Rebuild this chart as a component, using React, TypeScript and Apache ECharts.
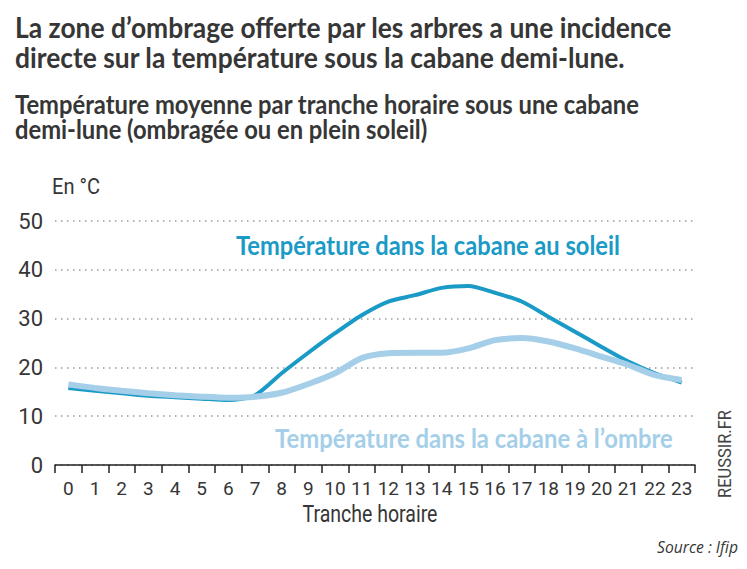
import React, { useEffect, useRef } from "react";
import * as echarts from "echarts";

const hours = ["0","1","2","3","4","5","6","7","8","9","10","11","12","13","14","15","16","17","18","19","20","21","22","23"];
const sunTemps = [15.8,15.2,14.7,14.2,13.9,13.6,13.3,14.3,18.8,23.0,27.0,30.7,33.5,34.8,36.3,36.7,35.3,33.5,30.4,27.3,24.2,21.2,18.8,16.9];
const shadeTemps = [16.5,15.8,15.2,14.7,14.3,14.0,13.8,14.0,14.8,16.6,18.8,21.9,22.9,23.0,23.0,23.9,25.6,26.0,25.3,23.9,22.2,20.5,18.4,17.4];
const yTicks = [0, 10, 20, 30, 40, 50];

const titleLines = [
  "La zone d\u2019ombrage offerte par les arbres a une incidence",
  "directe sur la température sous la cabane demi-lune.",
];
const subtitleLines = [
  "Température moyenne par tranche horaire sous une cabane",
  "demi-lune (ombragée ou en plein soleil)",
];
const sunLabel = "Température dans la cabane au soleil";
const shadeLabel = "Température dans la cabane à l\u2019ombre";
const unitLabel = "En °C";
const xAxisTitle = "Tranche horaire";
const brand = "REUSSIR.FR";
const source = "Source : Ifip";

const DARK = "#1a9ac6";
const LIGHT = "#a5cfe8";
const TEXT = "#363636";
const TFONT = "Lato";
const AFONT = "Roboto";

function measure(text: string, font: string): number {
  const c = document.createElement("canvas");
  const ctx = c.getContext("2d");
  if (!ctx) return text.length * 10;
  ctx.font = font;
  return ctx.measureText(text).width;
}

function fitText(
  text: string,
  x: number,
  y: number,
  width: number,
  size: number,
  opts: { weight?: string; style?: string; family?: string; fill?: string; align?: string; rotation?: number } = {}
) {
  const weight = opts.weight || "normal";
  const fstyle = opts.style || "normal";
  const family = opts.family || TFONT;
  const w = measure(text, `${fstyle} ${weight} ${size}px ${family}`);
  const sx = w > 0 ? width / w : 1;
  return {
    type: "text",
    x,
    y,
    rotation: opts.rotation || 0,
    scaleX: sx,
    scaleY: 1,
    silent: true,
    style: {
      text,
      fontFamily: family,
      fontSize: size,
      fontWeight: weight,
      fontStyle: fstyle,
      fill: opts.fill || TEXT,
      align: opts.align || "left",
      verticalAlign: "middle",
    },
  };
}

export default function App() {
  const ref = useRef<HTMLDivElement>(null);
  useEffect(() => {
    if (!ref.current) return;
    const chart = echarts.init(ref.current, null, { renderer: "svg" });
    const tW = measure(titleLines[0], `normal bold 28px ${TFONT}`);
    const sW = measure(subtitleLines[0], `normal bold 27px ${TFONT}`);
    const tS = 657 / tW;
    const sS = 625 / sW;
    chart.setOption({
      animation: false,
      backgroundColor: "#ffffff",
      grid: { left: 55, right: 52, top: 221, bottom: 104, containLabel: false },
      xAxis: {
        type: "category",
        data: hours,
        boundaryGap: true,
        axisLine: { show: true, lineStyle: { color: "#222", width: 1.5 } },
        axisTick: { show: true, alignWithLabel: false, length: 8, lineStyle: { color: "#222", width: 1.5 } },
        axisLabel: { fontFamily: AFONT, fontSize: 19, color: TEXT, margin: 14, interval: 0 },
      },
      yAxis: {
        type: "value",
        min: yTicks[0],
        max: yTicks[yTicks.length - 1],
        interval: 10,
        axisLine: { show: false },
        axisTick: { show: false },
        axisLabel: { fontFamily: AFONT, fontSize: 22, color: TEXT, margin: 12 },
        splitLine: { show: true, lineStyle: { color: "#9a9a9a", width: 1.5, type: [1.5, 4.5] } },
      },
      series: [
        {
          type: "line",
          name: "soleil",
          data: sunTemps,
          smooth: 0.25,
          symbol: "none",
          lineStyle: { color: DARK, width: 4 },
          z: 2,
        },
        {
          type: "line",
          name: "ombre",
          data: shadeTemps,
          smooth: 0.25,
          symbol: "none",
          lineStyle: { color: LIGHT, width: 6 },
          z: 3,
        },
      ],
      graphic: [
        { type: "text", x: 15, y: 27, scaleX: tS, silent: true, style: { text: titleLines[0], fontFamily: TFONT, fontSize: 28, fontWeight: "bold", fill: TEXT, verticalAlign: "middle" } },
        { type: "text", x: 15, y: 57, scaleX: tS, silent: true, style: { text: titleLines[1], fontFamily: TFONT, fontSize: 28, fontWeight: "bold", fill: TEXT, verticalAlign: "middle" } },
        { type: "text", x: 15, y: 103, scaleX: sS, silent: true, style: { text: subtitleLines[0], fontFamily: TFONT, fontSize: 27, fontWeight: "bold", fill: TEXT, verticalAlign: "middle" } },
        { type: "text", x: 15, y: 128, scaleX: sS, silent: true, style: { text: subtitleLines[1], fontFamily: TFONT, fontSize: 27, fontWeight: "bold", fill: TEXT, verticalAlign: "middle" } },
        fitText(unitLabel, 52, 186, 48, 22, { family: AFONT }),
        fitText(sunLabel, 236, 245, 384, 26, { weight: "bold", fill: DARK }),
        fitText(shadeLabel, 275, 438, 398, 26, { weight: "bold", fill: LIGHT }),
        fitText(xAxisTitle, 370, 514, 135, 24, { family: AFONT, align: "center" }),
        fitText(brand, 725, 454, 88, 19, { family: AFONT, align: "center", fill: "#444", rotation: Math.PI / 2 }),
        fitText(source, 738, 547, 81, 16, { family: "'Open Sans'", style: "italic", align: "right" }),
      ],
    });
    return () => chart.dispose();
  }, []);
  return <div ref={ref} style={{ width: 747, height: 569, position: "absolute", left: 0, top: 0 }} />;
}
